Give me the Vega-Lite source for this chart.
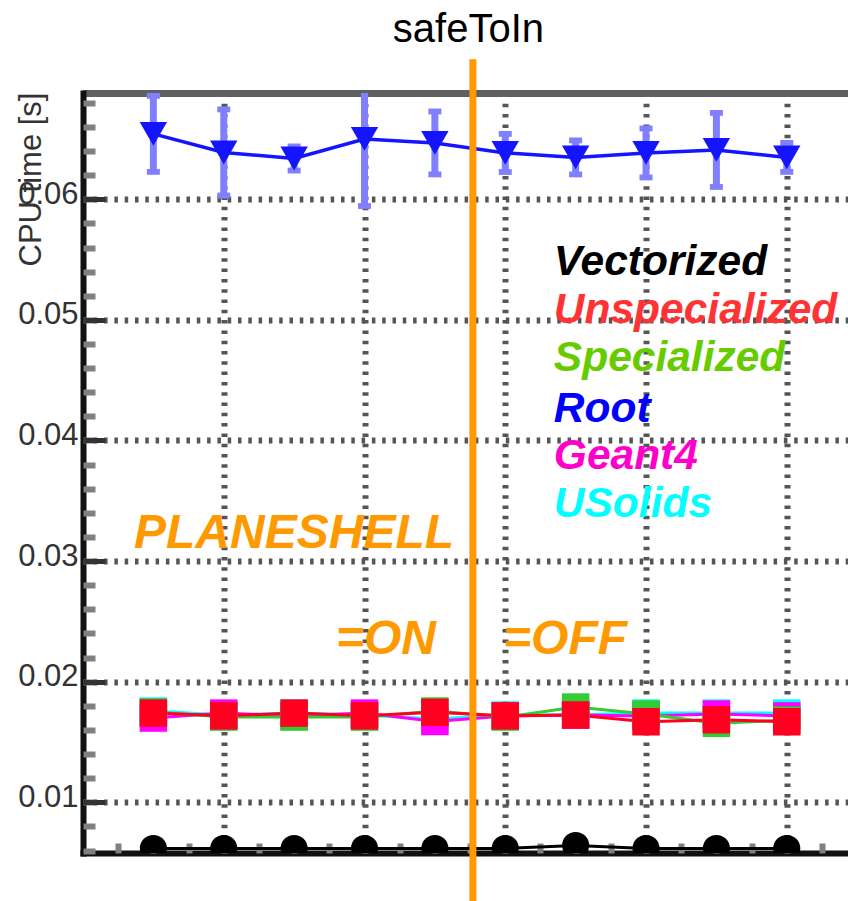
{
  "$schema": "https://vega.github.io/schema/vega-lite/v6.json",
  "width": 765,
  "height": 760,
  "autosize": "none",
  "padding": {"left": 83, "top": 93, "right": 0, "bottom": 48},
  "background": "white",
  "config": {"view": {"stroke": null}},
  "datasets": {
    "rootTimes": [
      {"x": 1, "y": 0.06542, "lo": 0.06227, "hi": 0.06857},
      {"x": 2, "y": 0.06388, "lo": 0.06031, "hi": 0.06745},
      {"x": 3, "y": 0.06338, "lo": 0.06238, "hi": 0.06438},
      {"x": 4, "y": 0.06500, "lo": 0.05944, "hi": 0.07056},
      {"x": 5, "y": 0.06467, "lo": 0.06206, "hi": 0.06728},
      {"x": 6, "y": 0.06384, "lo": 0.06226, "hi": 0.06542},
      {"x": 7, "y": 0.06347, "lo": 0.06206, "hi": 0.06488},
      {"x": 8, "y": 0.06384, "lo": 0.06181, "hi": 0.06587},
      {"x": 9, "y": 0.06409, "lo": 0.06102, "hi": 0.06716},
      {"x": 10, "y": 0.06347, "lo": 0.06227, "hi": 0.06467}
    ],
    "cpuTimes": [
      {"series": "Vectorized", "x": 1, "y": 0.00618},
      {"series": "Vectorized", "x": 2, "y": 0.00618},
      {"series": "Vectorized", "x": 3, "y": 0.00618},
      {"series": "Vectorized", "x": 4, "y": 0.00618},
      {"series": "Vectorized", "x": 5, "y": 0.00618},
      {"series": "Vectorized", "x": 6, "y": 0.00618},
      {"series": "Vectorized", "x": 7, "y": 0.00643},
      {"series": "Vectorized", "x": 8, "y": 0.00618},
      {"series": "Vectorized", "x": 9, "y": 0.00618},
      {"series": "Vectorized", "x": 10, "y": 0.00618},
      {"series": "USolids", "x": 1, "y": 0.01757},
      {"series": "USolids", "x": 2, "y": 0.01724},
      {"series": "USolids", "x": 3, "y": 0.01740},
      {"series": "USolids", "x": 4, "y": 0.01724},
      {"series": "USolids", "x": 5, "y": 0.01691},
      {"series": "USolids", "x": 6, "y": 0.01724},
      {"series": "USolids", "x": 7, "y": 0.01724},
      {"series": "USolids", "x": 8, "y": 0.01740},
      {"series": "USolids", "x": 9, "y": 0.01740},
      {"series": "USolids", "x": 10, "y": 0.01740},
      {"series": "Geant4", "x": 1, "y": 0.01699},
      {"series": "Geant4", "x": 2, "y": 0.01740},
      {"series": "Geant4", "x": 3, "y": 0.01716},
      {"series": "Geant4", "x": 4, "y": 0.01740},
      {"series": "Geant4", "x": 5, "y": 0.01670},
      {"series": "Geant4", "x": 6, "y": 0.01716},
      {"series": "Geant4", "x": 7, "y": 0.01724},
      {"series": "Geant4", "x": 8, "y": 0.01716},
      {"series": "Geant4", "x": 9, "y": 0.01732},
      {"series": "Geant4", "x": 10, "y": 0.01716},
      {"series": "Specialized", "x": 1, "y": 0.01749},
      {"series": "Specialized", "x": 2, "y": 0.01707},
      {"series": "Specialized", "x": 3, "y": 0.01707},
      {"series": "Specialized", "x": 4, "y": 0.01707},
      {"series": "Specialized", "x": 5, "y": 0.01757},
      {"series": "Specialized", "x": 6, "y": 0.01707},
      {"series": "Specialized", "x": 7, "y": 0.01790},
      {"series": "Specialized", "x": 8, "y": 0.01732},
      {"series": "Specialized", "x": 9, "y": 0.01655},
      {"series": "Specialized", "x": 10, "y": 0.01682},
      {"series": "Unspecialized", "x": 1, "y": 0.01740},
      {"series": "Unspecialized", "x": 2, "y": 0.01717},
      {"series": "Unspecialized", "x": 3, "y": 0.01740},
      {"series": "Unspecialized", "x": 4, "y": 0.01717},
      {"series": "Unspecialized", "x": 5, "y": 0.01746},
      {"series": "Unspecialized", "x": 6, "y": 0.01717},
      {"series": "Unspecialized", "x": 7, "y": 0.01724},
      {"series": "Unspecialized", "x": 8, "y": 0.01668},
      {"series": "Unspecialized", "x": 9, "y": 0.01685},
      {"series": "Unspecialized", "x": 10, "y": 0.01668}
    ],
    "keyRows": [
      {"series": "Vectorized", "x": 6.69, "y": 0.05372},
      {"series": "Unspecialized", "x": 6.69, "y": 0.04974},
      {"series": "Specialized", "x": 6.69, "y": 0.04580},
      {"series": "Root", "x": 6.69, "y": 0.04156},
      {"series": "Geant4", "x": 6.69, "y": 0.03764},
      {"series": "USolids", "x": 6.69, "y": 0.03368}
    ],
    "noteRows": [
      {"text": "PLANESHELL", "x": 0.725, "y": 0.03109},
      {"text": "=ON", "x": 3.595, "y": 0.02230},
      {"text": "=OFF", "x": 5.968, "y": 0.02230}
    ],
    "headingRows": [
      {"text": "safeToIn", "x": 5.477, "y": 0.07304}
    ],
    "dividerRows": [
      {"x": 5.54, "y": 0.0018, "y2": 0.0716}
    ]
  },
  "encoding": {
    "x": {"field": "x", "type": "quantitative", "scale": {"domain": [0, 10.87], "nice": false, "zero": false}, "axis": null},
    "y": {"field": "y", "type": "quantitative", "scale": {"domain": [0.0058, 0.06881], "nice": false, "zero": false}, "axis": null}
  },
  "layer": [
    {
      "data": {"name": "rootTimes"},
      "mark": {"type": "rule", "color": "#8080ff", "strokeWidth": 7, "clip": true},
      "encoding": {
        "x": {
          "field": "x", "type": "quantitative",
          "scale": {"domain": [0, 10.87], "nice": false, "zero": false},
          "axis": {
            "orient": "bottom", "values": [2, 4, 6, 8, 10], "title": null,
            "labels": false, "ticks": false,
            "domain": true, "domainColor": "#111111", "domainWidth": 6, "domainCap": "square",
            "grid": true, "gridColor": "#555555", "gridWidth": 6, "gridDash": [3.5, 6.8]
          }
        },
        "y": {
          "field": "lo", "type": "quantitative",
          "scale": {"domain": [0.0058, 0.06881], "nice": false, "zero": false},
          "axis": {
            "orient": "left", "values": [0.01, 0.02, 0.03, 0.04, 0.05, 0.06], "format": ".2f",
            "labelFont": "Liberation Sans", "labelFontSize": 31, "labelColor": "#333333",
            "labelPadding": 5, "labelOffset": -5, "ticks": false,
            "domain": true, "domainColor": "#111111", "domainWidth": 6, "domainCap": "square",
            "grid": true, "gridColor": "#555555", "gridWidth": 6, "gridDash": [3.5, 6.8],
            "title": "CPU time [s]", "titleFont": "Liberation Sans", "titleFontSize": 31,
            "titleFontWeight": "normal", "titleColor": "#333333",
            "titleAngle": 270, "titleX": -52, "titleY": 86,
            "titleAlign": "center", "titleBaseline": "middle"
          }
        },
        "y2": {"field": "hi"}
      }
    },
    {
      "data": {"name": "rootTimes"},
      "mark": {"type": "point", "shape": "M-1,-0.45L1,-0.45L1,0.45L-1,0.45Z", "filled": true, "color": "#8080ff", "size": 169, "opacity": 1, "clip": true},
      "encoding": {
        "y": {"field": "lo", "type": "quantitative", "scale": {"domain": [0.0058, 0.06881], "nice": false, "zero": false}, "axis": null}
      }
    },
    {
      "data": {"name": "rootTimes"},
      "mark": {"type": "point", "shape": "M-1,-0.45L1,-0.45L1,0.45L-1,0.45Z", "filled": true, "color": "#8080ff", "size": 169, "opacity": 1, "clip": true},
      "encoding": {
        "y": {"field": "hi", "type": "quantitative", "scale": {"domain": [0.0058, 0.06881], "nice": false, "zero": false}, "axis": null}
      }
    },
    {
      "data": {"name": "rootTimes"},
      "mark": {"type": "line", "color": "#1414ff", "strokeWidth": 3.5},
      "encoding": {
        "x": {
          "field": "x", "type": "quantitative",
          "scale": {"domain": [0, 10.87], "nice": false, "zero": false},
          "axis": {
            "orient": "bottom", "title": null, "labels": false, "domain": false, "grid": false,
            "values": [0.5, 1, 1.5, 2, 2.5, 3, 3.5, 4, 4.5, 5, 5.5, 6, 6.5, 7, 7.5, 8, 8.5, 9, 9.5, 10, 10.5],
            "offset": -10, "tickSize": 10, "tickWidth": 6, "tickColor": "#808080"
          }
        },
        "y": {
          "field": "y", "type": "quantitative",
          "scale": {"domain": [0.0058, 0.06881], "nice": false, "zero": false},
          "axis": {
            "orient": "left", "title": null, "labels": false, "domain": false, "grid": false,
            "values": [0.006, 0.008, 0.010, 0.012, 0.014, 0.016, 0.018, 0.020, 0.022, 0.024, 0.026, 0.028, 0.030, 0.032, 0.034, 0.036, 0.038, 0.040, 0.042, 0.044, 0.046, 0.048, 0.050, 0.052, 0.054, 0.056, 0.058, 0.060, 0.062, 0.064, 0.066, 0.068],
            "offset": -12, "tickSize": 12, "tickWidth": 6, "tickColor": "#808080"
          }
        }
      }
    },
    {
      "data": {"name": "rootTimes"},
      "mark": {"type": "point", "shape": "M-1,-0.87L1,-0.87L0,0.87Z", "filled": true, "color": "#1414ff", "size": 750, "opacity": 1},
      "encoding": {
        "x": {
          "field": "x", "type": "quantitative",
          "scale": {"domain": [0, 10.87], "nice": false, "zero": false},
          "axis": {
            "orient": "top", "title": null, "labels": false, "ticks": false, "grid": false,
            "domain": true, "domainColor": "#606060", "domainWidth": 7
          }
        },
        "y": {
          "field": "y", "type": "quantitative",
          "scale": {"domain": [0.0058, 0.06881], "nice": false, "zero": false},
          "axis": {
            "orient": "left", "title": null, "labels": false, "domain": false, "grid": false,
            "values": [0.01, 0.02, 0.03, 0.04, 0.05, 0.06],
            "offset": -22, "tickSize": 22, "tickWidth": 5, "tickColor": "#333333"
          }
        }
      }
    },
    {
      "data": {"name": "cpuTimes"},
      "mark": {"type": "line", "strokeWidth": 3, "clip": true},
      "encoding": {
        "color": {
          "field": "series", "type": "nominal", "legend": null,
          "scale": {"domain": ["Vectorized", "USolids", "Geant4", "Specialized", "Unspecialized"], "range": ["#000000", "#00ffff", "#ff00ff", "#33cc33", "#ff0020"]}
        }
      }
    },
    {
      "data": {"name": "cpuTimes"},
      "transform": [{"filter": "datum.series !== 'Vectorized'"}],
      "mark": {"type": "point", "shape": "square", "filled": true, "size": 756, "opacity": 1},
      "encoding": {
        "color": {
          "field": "series", "type": "nominal", "legend": null,
          "scale": {"domain": ["Vectorized", "USolids", "Geant4", "Specialized", "Unspecialized"], "range": ["#000000", "#00ffff", "#ff00ff", "#33cc33", "#ff0020"]}
        }
      }
    },
    {
      "data": {"name": "cpuTimes"},
      "transform": [{"filter": "datum.series === 'Vectorized'"}],
      "mark": {"type": "point", "shape": "circle", "filled": true, "size": 729, "opacity": 1, "color": "#000000", "clip": true}
    },
    {
      "data": {"name": "keyRows"},
      "mark": {"type": "text", "font": "Liberation Sans", "fontSize": 42.5, "fontWeight": "bold", "fontStyle": "italic", "align": "left", "baseline": "alphabetic"},
      "encoding": {
        "text": {"field": "series"},
        "fill": {
          "field": "series", "type": "nominal", "legend": null,
          "scale": {"domain": ["Vectorized", "Unspecialized", "Specialized", "Root", "Geant4", "USolids"], "range": ["#000000", "#ff3333", "#66cc00", "#0000ff", "#ff00cc", "#00ffff"]}
        }
      }
    },
    {
      "data": {"name": "noteRows"},
      "mark": {"type": "text", "font": "Liberation Sans", "fontSize": 48, "fontWeight": "bold", "fontStyle": "italic", "align": "left", "baseline": "alphabetic", "color": "#ff9900"},
      "encoding": {"text": {"field": "text"}}
    },
    {
      "data": {"name": "headingRows"},
      "mark": {"type": "text", "font": "Liberation Sans", "fontSize": 40, "fontWeight": "normal", "align": "center", "baseline": "alphabetic", "color": "#000000", "clip": false},
      "encoding": {"text": {"field": "text"}}
    },
    {
      "data": {"name": "dividerRows"},
      "mark": {"type": "rule", "color": "#ff9900", "strokeWidth": 7, "clip": false},
      "encoding": {"y2": {"field": "y2"}}
    }
  ],
  "resolve": {"axis": {"x": "independent", "y": "independent"}}
}
